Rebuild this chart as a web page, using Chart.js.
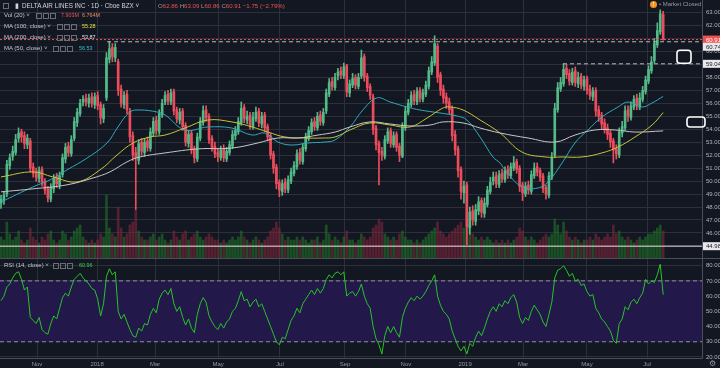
<!DOCTYPE html>
<html><head><meta charset="utf-8">
<script src="https://cdn.jsdelivr.net/npm/chart.js@4.4.1/dist/chart.umd.min.js"></script>
<style>
html,body{margin:0;padding:0;background:#131722;}
#wrap{position:relative;width:720px;height:368px;overflow:hidden;background:#131722;font-family:"Liberation Sans",Arial,sans-serif;}
canvas{position:absolute;left:0;}
#pc{top:0;}
#rc{top:259px;}
#sep{position:absolute;left:0;top:258px;width:720px;height:1px;background:#4a4e5a;}
.r{position:absolute;height:9px;line-height:9px;font-size:6px;color:#c5c8d0;white-space:nowrap;}
.ib{position:absolute;width:4px;height:4px;border:1px solid #6a6d78;top:2px;}
.g{color:#9598a1}.rd{color:#ef5350}
.n{font-size:5.4px}
</style></head>
<body><div id="wrap">
<canvas id="pc" width="720" height="258"></canvas>
<div id="sep"></div>
<canvas id="rc" width="720" height="109"></canvas>

<div class="ib" style="left:3px;top:3px"></div>
<div class="r" style="left:15px;top:1px;color:#d1d4dc;font-size:6.5px">&#9646;</div>
<div class="r" style="left:22px;top:1px;color:#d1d4dc;font-size:6.3px">DELTA AIR LINES INC · 1D · Cboe BZX &#709;</div>
<div class="r" style="left:158px;top:1px;font-size:6.1px"><span class="g">O</span><span class="rd">62.86</span> <span class="g">H</span><span class="rd">63.09</span> <span class="g">L</span><span class="rd">60.86</span> <span class="g">C</span><span class="rd">60.91</span> <span class="rd">−1.75 (−2.79%)</span></div>

<div class="r" style="left:4px;top:11px">Vol (20) &#709;</div>
<div class="ib" style="left:36px;top:13px"></div><div class="ib" style="left:43px;top:13px"></div><div class="ib" style="left:50px;top:13px"></div>
<div class="r n" style="left:61px;top:11px;color:#ef5350">7.903M</div>
<div class="r n" style="left:82px;top:11px;color:#f08a5d">6.764M</div>

<div class="r" style="left:4px;top:22px">MA (100, close) &#709;</div>
<div class="ib" style="left:57px;top:24px"></div><div class="ib" style="left:64px;top:24px"></div><div class="ib" style="left:71px;top:24px"></div>
<div class="r n" style="left:82px;top:22px;color:#e4e43c">55.28</div>

<div class="r" style="left:4px;top:33px">MA (200, close) &#709;</div>
<div class="ib" style="left:57px;top:35px"></div><div class="ib" style="left:64px;top:35px"></div><div class="ib" style="left:71px;top:35px"></div>
<div class="r n" style="left:82px;top:33px;color:#e6e6e6">53.87</div>

<div class="r" style="left:4px;top:44px">MA (50, close) &#709;</div>
<div class="ib" style="left:53px;top:46px"></div><div class="ib" style="left:60px;top:46px"></div><div class="ib" style="left:67px;top:46px"></div>
<div class="r n" style="left:79px;top:44px;color:#33c3d6">56.53</div>

<div class="r" style="left:4px;top:261px">RSI (14, close) &#709;</div>
<div class="ib" style="left:53px;top:263px"></div><div class="ib" style="left:60px;top:263px"></div><div class="ib" style="left:67px;top:263px"></div>
<div class="r n" style="left:79px;top:261px;color:#3ad03a">60.96</div>

<div style="position:absolute;left:650px;top:1px;width:7px;height:7px;border-radius:50%;background:#f7931a;color:#fff;font-size:5px;line-height:7px;text-align:center;font-weight:bold">!</div>
<div class="r" style="left:659px;top:0px;color:#9598a1">• Market Closed</div>
<div class="r" style="left:709px;top:359px;color:#9598a1;font-size:8px">&#9881;</div>
</div>
<script>
// ---------- data ----------
const opens = [48.3,48.5,49.0,51.2,51.9,52.2,53.3,53.8,53.5,52.8,
53.1,51.1,50.7,50.2,50.9,50.0,49.4,48.6,49.4,50.3,
49.7,50.5,51.7,52.7,52.1,53.3,54.5,55.2,56.1,56.4,
56.0,56.5,55.9,56.6,55.9,54.8,56.4,59.4,60.3,59.5,
59.2,57.1,55.9,56.7,55.4,53.5,52.2,51.6,53.0,52.2,
53.1,52.5,53.7,54.7,53.8,55.1,56.1,56.7,56.1,56.9,
55.5,54.7,55.4,54.3,52.9,53.7,52.5,51.7,53.3,54.5,
55.5,55.0,53.3,52.7,52.2,51.8,52.5,51.7,52.2,52.7,
53.5,53.8,54.5,55.7,54.7,55.1,54.2,54.8,55.4,54.4,
55.1,54.2,53.5,52.1,51.1,49.9,49.2,49.9,49.3,50.0,
50.6,51.1,52.2,51.5,52.5,53.3,53.8,54.6,54.1,55.1,
54.5,55.4,56.7,57.7,57.2,58.1,58.5,58.1,58.9,56.8,
57.4,58.0,57.3,58.1,59.6,58.1,57.3,56.5,54.1,52.9,
52.3,51.9,53.1,53.9,52.8,53.6,52.7,51.9,54.1,55.3,
55.9,56.7,56.1,57.0,56.3,56.7,57.3,58.4,59.1,60.4,
58.2,57.1,56.5,56.1,55.6,53.6,52.5,50.9,49.1,49.7,
46.4,47.7,46.9,47.7,48.5,47.5,48.2,49.2,50.0,50.4,
49.7,50.6,50.1,50.9,50.4,51.0,51.5,51.0,49.7,49.0,
49.7,49.2,50.4,51.1,50.8,50.4,49.5,48.9,50.3,52.0,
55.5,57.1,57.5,58.7,58.3,57.6,58.5,57.5,58.1,57.3,
57.9,57.1,56.5,57.0,55.5,55.1,54.5,54.1,53.7,53.1,
52.5,52.0,53.7,54.1,55.5,54.9,55.7,56.4,55.7,56.3,
56.9,57.7,58.5,59.3,60.5,61.5,62.86];
const highs = [48.9,49.2,51.6,52.1,52.7,53.6,54.1,54.0,53.8,53.6,
53.3,51.4,51.0,51.1,51.1,50.2,49.6,49.8,50.5,50.6,
50.7,52.1,52.9,53.0,53.5,54.9,55.6,56.3,56.6,56.7,
56.7,56.8,56.8,56.9,56.1,55.9,59.9,60.74,60.6,60.6,
59.4,57.4,56.9,57.0,55.6,53.8,52.6,53.2,53.3,53.3,
53.4,54.1,54.9,55.0,55.5,56.3,56.9,57.0,57.1,57.1,
55.7,55.6,55.6,54.5,53.9,53.9,52.7,53.7,54.9,55.8,
55.8,55.2,53.5,53.0,52.5,52.7,52.8,52.6,53.1,53.9,
54.2,54.9,56.1,55.9,55.4,55.3,55.3,55.7,55.6,55.3,
55.3,54.4,53.7,52.3,51.3,50.1,50.1,50.2,50.4,51.0,
51.5,52.4,52.5,52.9,53.7,54.2,54.8,54.9,55.3,55.4,
55.6,57.1,57.9,58.0,58.3,58.7,58.8,59.1,59.0,57.8,
58.3,58.2,58.3,60.1,59.8,58.3,57.5,56.7,54.3,53.1,
52.6,53.5,54.1,54.1,53.8,53.8,52.9,54.5,55.7,56.3,
56.9,57.0,57.2,57.2,57.1,57.7,58.8,59.6,61.2,60.6,
58.4,57.4,56.8,56.4,55.8,53.9,52.7,51.1,50.0,49.9,
48.0,48.1,48.2,48.8,48.7,48.7,49.6,50.3,50.7,50.7,
50.8,50.9,51.1,51.2,51.4,51.9,51.7,51.2,49.9,49.9,
50.0,50.8,51.4,51.4,51.0,50.6,49.7,50.7,52.2,56.0,
57.6,58.0,59.04,59.0,58.6,58.7,58.8,58.4,58.3,58.1,
58.1,57.4,57.2,57.2,55.8,55.3,54.8,54.4,53.9,53.3,
52.8,54.1,54.6,55.8,55.8,56.1,56.6,56.7,56.8,57.3,
58.1,58.9,59.6,61.0,62.2,63.2,63.09];
const lows = [47.9,48.2,48.8,50.9,51.6,52.0,53.0,53.0,52.5,52.5,
50.7,50.3,50.0,49.9,49.6,49.0,48.4,48.4,49.1,49.5,
49.4,50.3,51.4,51.9,51.9,53.1,54.2,55.0,55.8,55.8,
55.7,55.7,55.6,55.5,54.4,54.5,56.2,59.1,59.2,59.2,
56.6,55.7,55.6,55.2,53.0,51.6,47.8,51.3,52.0,51.9,
52.3,52.3,53.5,53.6,53.6,54.9,55.9,55.9,55.9,55.1,
54.5,54.4,53.9,52.7,52.6,52.1,51.4,51.5,53.1,54.3,
54.6,52.9,52.3,51.8,51.5,51.6,51.5,51.5,52.0,52.5,
53.2,53.6,54.3,54.5,54.4,54.0,54.0,54.6,54.2,54.1,
53.8,53.1,51.7,50.6,49.4,48.8,48.9,49.1,49.1,49.8,
50.4,50.9,51.3,51.3,52.3,53.1,53.6,53.9,53.9,54.3,
54.3,55.2,56.5,57.0,57.0,57.8,57.9,57.9,56.5,56.5,
57.2,57.1,57.1,57.9,57.7,56.9,56.3,53.6,52.4,49.7,
51.6,51.7,52.9,52.6,52.6,52.3,51.5,51.8,53.9,55.1,
55.7,55.9,55.9,56.1,56.1,56.5,57.1,58.2,58.9,57.6,
56.6,56.0,55.6,55.2,53.1,52.0,50.3,48.6,48.3,45.1,
45.9,46.6,46.6,47.4,47.2,47.2,48.0,49.0,49.7,49.5,
49.5,49.9,49.9,50.2,50.2,50.8,50.6,49.2,48.5,48.8,
49.0,49.0,50.2,50.4,50.0,49.1,48.6,48.7,50.1,51.8,
55.3,56.9,57.3,57.9,57.4,57.4,57.3,57.2,57.1,57.0,
56.7,56.3,56.2,55.0,54.6,54.0,53.7,53.2,52.6,51.4,
51.7,51.8,53.4,53.9,54.6,54.7,55.5,55.5,55.5,56.1,
56.7,57.5,58.3,59.1,60.3,61.3,60.86];
const closes = [48.6,48.9,51.3,51.8,52.3,53.2,53.7,53.4,52.9,53.3,
51.0,50.6,50.3,50.8,49.9,49.3,48.7,49.5,50.2,49.8,
50.4,51.8,52.6,52.2,53.2,54.6,55.3,56.0,56.3,56.1,
56.4,56.0,56.5,55.8,54.9,55.6,59.5,60.2,59.6,60.3,
57.0,56.0,56.6,55.5,53.4,52.0,51.8,52.9,52.3,53.0,
52.6,53.8,54.6,53.9,55.2,56.0,56.6,56.2,56.8,55.4,
54.8,55.3,54.2,53.0,53.6,52.4,51.8,53.4,54.6,55.4,
54.9,53.2,52.6,52.1,51.9,52.4,51.8,52.3,52.8,53.6,
53.9,54.6,55.6,54.8,55.0,54.3,54.9,55.3,54.5,55.0,
54.1,53.4,52.0,51.0,49.8,49.3,49.8,49.4,50.1,50.7,
51.2,52.1,51.6,52.6,53.4,53.9,54.5,54.2,55.0,54.6,
55.3,56.8,57.6,57.3,58.0,58.4,58.2,58.8,56.9,57.5,
57.9,57.4,58.0,59.5,58.0,57.2,56.6,54.0,52.8,52.2,
52.0,53.2,53.8,52.9,53.5,52.6,52.0,54.2,55.4,56.0,
56.6,56.2,56.9,56.4,56.8,57.4,58.5,59.2,60.6,58.0,
57.0,56.4,56.0,55.5,53.5,52.4,50.8,49.2,49.6,46.5,
47.6,47.0,47.8,48.4,47.6,48.3,49.3,49.9,50.3,49.8,
50.5,50.2,50.8,50.5,51.1,51.4,50.9,49.6,49.1,49.6,
49.3,50.5,51.0,50.7,50.3,49.4,49.0,50.4,51.8,55.6,
57.2,57.6,58.6,58.2,57.7,58.4,57.6,58.0,57.4,57.8,
57.0,56.6,56.9,55.4,55.0,54.4,54.0,53.6,53.0,52.4,
52.1,53.8,54.2,55.4,55.0,55.8,56.3,55.8,56.4,57.0,
57.8,58.6,59.2,60.6,61.6,62.9,60.91];
const volumes = [7,6,12,8,6,7,9,6,5,6,
10,7,6,5,7,6,8,9,6,5,
6,9,8,6,7,9,10,11,7,6,
5,6,5,6,8,7,21,10,8,7,
17,10,7,8,11,12,16,9,7,6,
6,7,8,6,7,8,6,5,6,9,
7,6,8,9,6,7,8,9,7,6,
7,8,7,6,6,5,6,5,6,7,
6,7,9,7,6,5,6,7,6,5,
6,7,9,10,12,10,8,6,7,6,
6,7,6,7,6,5,6,6,7,5,
6,11,8,6,7,6,5,7,9,6,
6,5,6,8,7,6,7,10,11,13,
12,8,7,6,7,6,8,9,7,6,
6,5,6,5,6,7,8,9,10,12,
9,8,7,8,9,10,11,12,10,14,
11,8,7,6,7,6,7,6,5,6,
5,6,5,6,5,6,7,10,9,7,
6,7,6,5,6,7,8,7,8,13,
11,8,12,9,7,6,7,6,5,6,
6,7,6,8,7,6,7,8,7,11,
8,9,7,6,7,6,5,6,7,6,
7,8,8,9,10,11,9];
// moving averages (candle index, price)
const ma50Idx = [0,10.9,16.7,22.5,29.4,36.2,39.9,44,47.4,53.2,56,62.8,70.6,78.8,85.7,90.1,94.5,99.3,104.8,110.6,114,119.1,123.5,128.3,132.8,138.6,143,149.8,155.6,159,163.5,167.9,170.3,172,177.8,183.3,186.7,191.5,195.9,200.3,205.1,210.6,214,218.8,222.2,226];
const ma50Val = [48.39,49.55,50.09,50.86,51.78,52.94,54.17,55.33,55.48,55.33,55.1,53.94,54.17,54.09,53.55,53.71,53.01,52.78,52.94,53.01,53.17,54.17,55.48,56.41,56.1,55.71,55.48,55.25,55.02,54.71,53.4,51.86,51.4,50.86,49.55,49.47,49.94,51.4,52.94,53.94,54.94,55.71,56.1,55.71,56.02,56.53];
const ma100Idx = [0,10.9,17.7,26,33.8,39.6,45.1,50.9,56,62.8,70.6,78.8,85.7,91.1,96.9,103.8,109.6,114,119.1,125.9,132.8,139.6,145.4,150.9,153.2,157.7,163.5,170.3,177.8,185.7,191.5,198.3,205.1,210.6,216.4,222.2,226];
const ma100Val = [50.32,50.71,50.32,49.94,50.86,52.01,52.94,53.4,53.55,54.09,54.71,54.56,54.17,53.78,53.4,53.32,53.32,53.4,53.94,54.48,54.32,54.17,54.86,55.64,55.71,55.48,54.71,53.71,52.24,51.86,51.86,51.86,52.17,52.63,53.4,54.32,55.28];
const ma200Idx = [0,10.9,22.5,31.4,37.2,43,47.4,56,67.2,78.8,87.7,94.5,101.4,108.2,114,119.1,125.9,132.8,139.6,146.4,150.9,157.7,163.5,170.3,179.9,189.1,195.9,202.7,209.6,216.4,226];
const ma200Val = [49.17,49.4,49.71,50.24,50.71,51.48,51.86,52.17,52.48,52.55,52.94,53.32,53.32,53.55,53.78,54.17,54.56,54.4,54.25,54.32,54.56,54.48,54.09,53.71,53.32,53.01,53.55,53.94,53.94,53.78,53.87];
// RSI (14), one value per candle
const rsiVals = [57,60,66,68,72,75,76,71,64,66,
46,44,42,46,38,36,35,42,47,45,
52,59,62,60,66,71,73,75,72,70,
68,65,64,58,47,55,73,78,74,76,
50,45,48,43,38,34,33,39,37,42,
41,48,52,49,58,62,64,61,65,55,
50,53,46,41,45,39,36,48,55,59,
56,47,43,40,38,42,39,43,45,50,
52,57,63,57,58,53,56,58,53,55,
50,45,40,35,30,28,33,32,38,44,
47,52,49,55,58,61,64,61,65,62,
65,71,74,72,75,76,74,76,60,62,
63,60,63,68,60,55,52,40,32,28,
22,34,40,36,40,36,33,46,52,56,
59,57,60,58,60,63,67,70,74,60,
54,50,48,45,37,32,27,24,27,22,
29,27,33,37,34,39,45,50,53,50,
55,53,57,55,59,61,56,46,42,46,
44,50,54,51,48,43,40,48,56,72,
77,78,80,77,73,75,70,71,67,68,
63,60,61,52,49,45,43,40,37,31,
29,42,45,53,51,56,58,55,59,62,
71,68,70,69,74,81,61];
const rsiIdx = rsiVals.map((_, k) => k);
// axis labels
const monthPos = [12.3,32.8,52.6,74.1,95.2,117.4,138.2,158.4,178.2,200.0,220.5];
const monthLbl = ['Nov','2018','Mar','May','Jul','Sep','Nov','2019','Mar','May','Jul'];
const priceTicks = [45,46,47,48,49,50,51,52,53,54,55,56,57,58,59,60,61,62,63];
const priceHidden = [45,59,61];
const rsiTicks = [20,30,40,50,60,70,80];
// price lines / labels
const lastClose = 60.91, resist1 = 60.74, resist2 = 59.04, lowLine = 44.98;
const resist1From = 36.2, resist2From = 191.8;
// drawn annotation boxes (candle index, price, w, h)
const noteIdx = [233.1, 237.2], notePrice = [59.58, 54.56], noteW = [14, 18], noteH = [13, 10];

// ---------- chart ----------
const X_MIN = -0.34, X_MAX = 239.25;
const BG = '#131722', GRID = '#2c303b', AXIS = '#4a4e5a', TXT = '#b2b5be';
const UP = '#53b987', DN = '#eb4d5c';
Chart.defaults.font.family = '"Liberation Sans", Arial, sans-serif';
Chart.defaults.animation = false;

const up = closes.map((c, i) => c >= opens[i]);

function xAxis(show) {
  return {
    type: 'linear', min: X_MIN, max: X_MAX, offset: false,
    afterBuildTicks: a => { a.ticks = monthPos.map(v => ({ value: v })); },
    ticks: { display: show, autoSkip: false, maxRotation: 0, padding: 3, font: { size: 6 }, color: '#9598a1',
      callback: (v, i) => monthLbl[i] },
    grid: { color: GRID, drawTicks: false, offset: false },
    border: { display: show, color: AXIS },
    afterFit: s => { s.height = show ? 10 : 0; s.paddingLeft = 0; s.paddingRight = 0; }
  };
}

const pts = (xs, ys) => xs.map((x, i) => ({ x, y: ys[i] }));
const hline = (from, v) => [{ x: from, y: v }, { x: X_MAX, y: v }];

const tagPlugin = {
  id: 'tags',
  afterDraw(chart) {
    const ctx = chart.ctx, ys = chart.scales.y, xs = chart.scales.x;
    ctx.save();
    ctx.font = '6px "Liberation Sans", Arial, sans-serif';
    ctx.textBaseline = 'middle';
    const tags = [
      { v: lastClose, bg: '#ef5350', fg: '#ffffff', dy: 0 },
      { v: resist1, bg: '#e9e9ec', fg: '#131722', dy: 5 },
      { v: resist2, bg: '#e9e9ec', fg: '#131722', dy: 0 },
      { v: lowLine, bg: '#e9e9ec', fg: '#131722', dy: 0 }
    ];
    for (const t of tags) {
      const py = ys.getPixelForValue(t.v) + t.dy;
      ctx.fillStyle = t.bg; ctx.fillRect(ys.left + 1, py - 4, ys.width, 8);
      ctx.fillStyle = t.fg; ctx.fillText(t.v.toFixed(2), ys.left + 4, py + 0.5);
    }
    ctx.strokeStyle = '#ffffff'; ctx.lineWidth = 1.6;
    noteIdx.forEach((ix, k) => {
      const cx = xs.getPixelForValue(ix), cy = ys.getPixelForValue(notePrice[k]);
      const w = noteW[k], h = noteH[k];
      ctx.beginPath(); ctx.roundRect(cx - w / 2, cy - h / 2, w, h, 3); ctx.stroke();
    });
    ctx.restore();
  }
};
const bgPlugin = { id: 'bg', beforeDraw(c) { const x = c.ctx; x.save(); x.fillStyle = BG; x.fillRect(0, 0, c.width, c.height); x.restore(); } };

new Chart(document.getElementById('pc'), {
  type: 'bar',
  data: {
    datasets: [
      { type: 'bar', yAxisID: 'yv', grouped: false, order: 10, barThickness: 2,
        data: pts(closes.map((_, i) => i), volumes),
        backgroundColor: up.map(u => u ? 'rgba(30,115,38,0.62)' : 'rgba(128,38,60,0.62)') },
      { type: 'line', order: 9, data: hline(X_MIN, lowLine), borderColor: '#e6d8dc', borderWidth: 1, pointRadius: 0 },
      { type: 'bar', order: 4, grouped: false, barThickness: 1,
        data: closes.map((_, i) => ({ x: i, y: [lows[i], highs[i]] })),
        backgroundColor: up.map(u => u ? UP : DN) },
      { type: 'bar', order: 3, grouped: false, barThickness: 2, minBarLength: 1,
        data: closes.map((c, i) => ({ x: i, y: [opens[i], c] })),
        backgroundColor: up.map(u => u ? UP : DN) },
      { type: 'line', order: 2, data: pts(ma200Idx, ma200Val), borderColor: '#c6c6c6', borderWidth: 1, pointRadius: 0, tension: 0.4 },
      { type: 'line', order: 2, data: pts(ma100Idx, ma100Val), borderColor: '#c4c43a', borderWidth: 1, pointRadius: 0, tension: 0.4 },
      { type: 'line', order: 2, data: pts(ma50Idx, ma50Val), borderColor: '#2fa9bb', borderWidth: 1, pointRadius: 0, tension: 0.4 },
      { type: 'line', order: 1, data: hline(X_MIN, lastClose), borderColor: '#ef5350', borderWidth: 1, borderDash: [2, 2], pointRadius: 0 },
      { type: 'line', order: 1, data: hline(resist1From, resist1), borderColor: '#b8b8c0', borderWidth: 1, borderDash: [4, 3], pointRadius: 0 },
      { type: 'line', order: 1, data: hline(resist2From, resist2), borderColor: '#b8b8c0', borderWidth: 1, borderDash: [4, 3], pointRadius: 0 }
    ]
  },
  options: {
    responsive: false, devicePixelRatio: 1, events: [],
    layout: { padding: 0 },
    plugins: { legend: { display: false }, tooltip: { enabled: false } },
    scales: {
      x: xAxis(false),
      y: { type: 'linear', position: 'right', min: 44.07, max: 63.96,
        afterBuildTicks: a => { a.ticks = priceTicks.map(v => ({ value: v })); },
        ticks: { color: TXT, font: { size: 6 }, padding: 4, callback: v => priceHidden.includes(v) ? '' : v.toFixed(2) },
        grid: { color: GRID, drawTicks: false },
        border: { color: AXIS },
        afterFit: s => { s.width = 18; s.paddingTop = 0; s.paddingBottom = 0; } },
      yv: { type: 'linear', display: false, position: 'right', min: 0, max: 86 }
    }
  },
  plugins: [bgPlugin, tagPlugin]
});

new Chart(document.getElementById('rc'), {
  type: 'line',
  data: {
    datasets: [
      { data: hline(X_MIN, 70), borderColor: '#8e8ea6', borderWidth: 1, borderDash: [4, 3], pointRadius: 0, fill: '+1', backgroundColor: '#221849', order: 3 },
      { data: hline(X_MIN, 30), borderColor: '#8e8ea6', borderWidth: 1, borderDash: [4, 3], pointRadius: 0, fill: false, order: 2 },
      { data: pts(rsiIdx, rsiVals), borderColor: '#27c427', borderWidth: 1, pointRadius: 0, tension: 0, fill: false, order: 1 }
    ]
  },
  options: {
    responsive: false, devicePixelRatio: 1, events: [],
    layout: { padding: 0 },
    plugins: { legend: { display: false }, tooltip: { enabled: false } },
    scales: {
      x: xAxis(true),
      y: { type: 'linear', position: 'right', min: 19.34, max: 84.4,
        afterBuildTicks: a => { a.ticks = rsiTicks.map(v => ({ value: v })); },
        ticks: { color: TXT, font: { size: 6 }, padding: 4, callback: v => v.toFixed(2) },
        grid: { color: GRID, drawTicks: false },
        border: { color: AXIS },
        afterFit: s => { s.width = 18; s.paddingTop = 0; s.paddingBottom = 0; } }
    }
  },
  plugins: [bgPlugin]
});
</script>
</body></html>
